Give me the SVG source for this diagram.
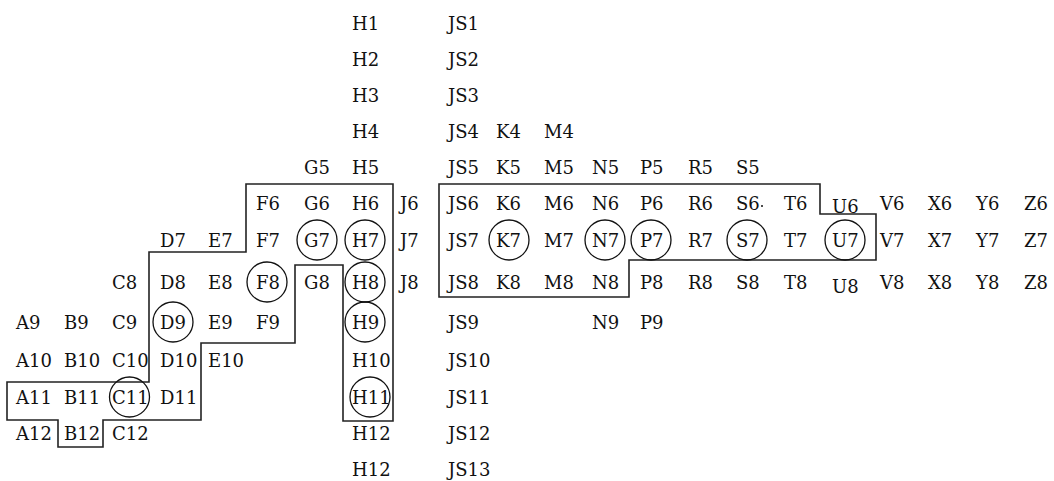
<svg xmlns="http://www.w3.org/2000/svg" width="1054" height="481" viewBox="0 0 1054 481">
<style>
.c{fill:none;stroke:#111;stroke-width:1.3}
.o{fill:none;stroke:#222;stroke-width:1.6}
</style>
<rect width="1054" height="481" fill="#fff"/>
<g id="outlines">
<path class="o" d="M246,184 H393 V421 H343 V265 H295 V343 H201 V420 H103 V447 H58 V420 H7 V382 H149 V252 H246 Z"/>
<path class="o" d="M439,184 H820 V214 H876 V260 H629 V297 H439 Z"/>
</g>
<g id="labels" font-family="'DejaVu Serif', serif" font-size="18" fill="#111">
<g id="row1"><text x="352" y="30">H1</text><text x="448" y="30">JS1</text></g>
<g id="row2"><text x="352" y="66">H2</text><text x="448" y="66">JS2</text></g>
<g id="row3"><text x="352" y="102">H3</text><text x="448" y="102">JS3</text></g>
<g id="row4"><text x="352" y="138">H4</text><text x="448" y="138">JS4</text><text x="496" y="138">K4</text><text x="544" y="138">M4</text></g>
<g id="row5"><text x="304" y="174">G5</text><text x="352" y="174">H5</text><text x="448" y="174">JS5</text><text x="496" y="174">K5</text><text x="544" y="174">M5</text><text x="592" y="174">N5</text><text x="640" y="174">P5</text><text x="688" y="174">R5</text><text x="736" y="174">S5</text></g>
<g id="row6"><text x="256" y="210">F6</text><text x="304" y="210">G6</text><text x="352" y="210">H6</text><text x="400" y="210">J6</text><text x="448" y="210">JS6</text><text x="496" y="210">K6</text><text x="544" y="210">M6</text><text x="592" y="210">N6</text><text x="640" y="210">P6</text><text x="688" y="210">R6</text><text x="736" y="210">S6</text><circle cx="762" cy="206" r="1" fill="#111"/><text x="784" y="210">T6</text><text x="832" y="213">U6</text><text x="880" y="210">V6</text><text x="928" y="210">X6</text><text x="976" y="210">Y6</text><text x="1024" y="210">Z6</text></g>
<g id="row7"><text x="160" y="247">D7</text><text x="208" y="247">E7</text><text x="256" y="247">F7</text><text x="304" y="247">G7</text><text x="352" y="247">H7</text><text x="400" y="247">J7</text><text x="448" y="247">JS7</text><text x="496" y="247">K7</text><text x="544" y="247">M7</text><text x="592" y="247">N7</text><text x="640" y="247">P7</text><text x="688" y="247">R7</text><text x="736" y="247">S7</text><text x="784" y="247">T7</text><text x="832" y="247">U7</text><text x="880" y="247">V7</text><text x="928" y="247">X7</text><text x="976" y="247">Y7</text><text x="1024" y="247">Z7</text></g>
<g id="row8"><text x="112" y="289">C8</text><text x="160" y="289">D8</text><text x="208" y="289">E8</text><text x="256" y="289">F8</text><text x="304" y="289">G8</text><text x="352" y="289">H8</text><text x="400" y="289">J8</text><text x="448" y="289">JS8</text><text x="496" y="289">K8</text><text x="544" y="289">M8</text><text x="592" y="289">N8</text><text x="640" y="289">P8</text><text x="688" y="289">R8</text><text x="736" y="289">S8</text><text x="784" y="289">T8</text><text x="832" y="293">U8</text><text x="880" y="289">V8</text><text x="928" y="289">X8</text><text x="976" y="289">Y8</text><text x="1024" y="289">Z8</text></g>
<g id="row9"><text x="16" y="329">A9</text><text x="64" y="329">B9</text><text x="112" y="329">C9</text><text x="160" y="329">D9</text><text x="208" y="329">E9</text><text x="256" y="329">F9</text><text x="352" y="329">H9</text><text x="448" y="329">JS9</text><text x="592" y="329">N9</text><text x="640" y="329">P9</text></g>
<g id="row10"><text x="16" y="367">A10</text><text x="64" y="367">B10</text><text x="112" y="367">C10</text><text x="160" y="367">D10</text><text x="208" y="367">E10</text><text x="352" y="367">H10</text><text x="448" y="367">JS10</text></g>
<g id="row11"><text x="16" y="404">A11</text><text x="64" y="404">B11</text><text x="112" y="404">C11</text><text x="160" y="404">D11</text><text x="352" y="404">H11</text><text x="448" y="404">JS11</text></g>
<g id="row12"><text x="16" y="440">A12</text><text x="64" y="440">B12</text><text x="112" y="440">C12</text><text x="352" y="440">H12</text><text x="448" y="440">JS12</text></g>
<g id="row13"><text x="352" y="476">H12</text><text x="448" y="476">JS13</text></g>
</g>
<g id="circles">
<circle class="c" cx="317" cy="240" r="20"/>
<circle class="c" cx="365" cy="240" r="20"/>
<circle class="c" cx="509" cy="240" r="20"/>
<circle class="c" cx="605" cy="240" r="20"/>
<circle class="c" cx="651" cy="240" r="20"/>
<circle class="c" cx="747" cy="240" r="20"/>
<circle class="c" cx="845" cy="240" r="20"/>
<circle class="c" cx="267" cy="282" r="20"/>
<circle class="c" cx="365" cy="282" r="20"/>
<circle class="c" cx="173" cy="322" r="20"/>
<circle class="c" cx="365" cy="322" r="20"/>
<circle class="c" cx="129.5" cy="397" r="20"/>
<circle class="c" cx="370" cy="397" r="20"/>
</g>
</svg>
